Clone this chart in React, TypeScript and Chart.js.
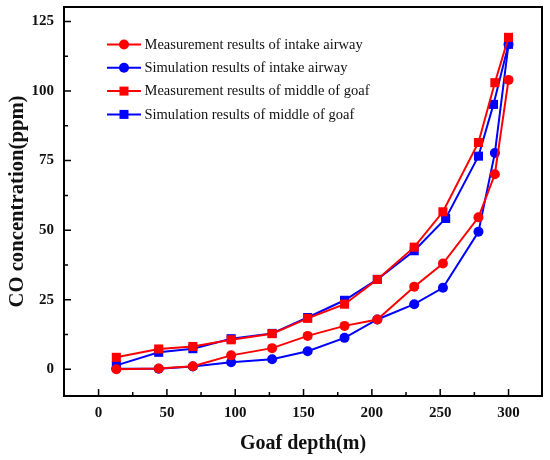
import React, { useEffect, useRef } from "react";
import { Chart, registerables } from "chart.js";

Chart.register(...registerables);

// Goaf depth (m)
const depth = [13, 44, 69, 97, 127, 153, 180, 204, 231, 252, 278, 290, 300];
const depthSimMiddle = [13, 44, 69, 97, 127, 153, 180, 204, 231, 254, 278, 289, 300];

// CO concentration (ppm)
const measIntake = [0, 0.3, 1.1, 5.0, 7.6, 12.0, 15.6, 17.9, 29.7, 38.0, 54.6, 70.1, 104.0];
const simIntake = [0.2, 0.2, 1.0, 2.5, 3.6, 6.5, 11.3, 17.9, 23.4, 29.3, 49.4, 77.7, 116.8];
const measMiddle = [4.3, 7.3, 8.2, 10.6, 12.8, 18.3, 23.4, 32.3, 43.9, 56.6, 81.5, 103.0, 119.3];
const simMiddle = [1.4, 6.1, 7.4, 11.0, 12.9, 18.6, 24.8, 32.3, 42.6, 54.2, 76.6, 95.2, 116.8];

const seriesNames = [
  "Measurement results of intake airway",
  "Simulation results of intake airway",
  "Measurement results of middle of goaf",
  "Simulation results of middle of goaf",
];

const xTicks = [0, 50, 100, 150, 200, 250, 300];
const xMinorTicks = [25, 75, 125, 175, 225, 275];
const yTicks = [0, 25, 50, 75, 100, 125];
const yMinorTicks = [12.5, 37.5, 62.5, 87.5, 112.5];

const RED = "#ff0000";
const BLUE = "#0000ff";
const FONT = "'Liberation Serif', 'Times New Roman', serif";

const frameAndLegend = {
  id: "frameAndLegend",
  afterDraw(chart: any) {
    const { ctx, chartArea: a, scales } = chart;
    const xs = scales.x;
    const ys = scales.y;
    ctx.save();
    ctx.strokeStyle = "#000";
    ctx.lineWidth = 2;
    ctx.strokeRect(a.left, a.top, a.right - a.left, a.bottom - a.top);
    ctx.lineWidth = 1.5;
    ctx.beginPath();
    for (const v of xTicks) {
      const px = xs.getPixelForValue(v);
      ctx.moveTo(px, a.bottom);
      ctx.lineTo(px, a.bottom - 7);
    }
    for (const v of xMinorTicks) {
      const px = xs.getPixelForValue(v);
      ctx.moveTo(px, a.bottom);
      ctx.lineTo(px, a.bottom - 4);
    }
    for (const v of yTicks) {
      const py = ys.getPixelForValue(v);
      ctx.moveTo(a.left, py);
      ctx.lineTo(a.left + 7, py);
    }
    for (const v of yMinorTicks) {
      const py = ys.getPixelForValue(v);
      ctx.moveTo(a.left, py);
      ctx.lineTo(a.left + 4, py);
    }
    ctx.stroke();

    // legend
    const colors = [RED, BLUE, RED, BLUE];
    const shapes = ["circle", "circle", "rect", "rect"];
    const x0 = a.left + 43;
    const x1 = a.left + 77;
    const xm = (x0 + x1) / 2;
    ctx.font = `14.5px ${FONT}`;
    ctx.textBaseline = "middle";
    ctx.textAlign = "left";
    seriesNames.forEach((name, i) => {
      const y = a.top + 37.5 + i * 23.3;
      ctx.strokeStyle = colors[i];
      ctx.fillStyle = colors[i];
      ctx.lineWidth = 2;
      ctx.beginPath();
      ctx.moveTo(x0, y);
      ctx.lineTo(x1, y);
      ctx.stroke();
      if (shapes[i] === "circle") {
        ctx.beginPath();
        ctx.arc(xm, y, 5, 0, Math.PI * 2);
        ctx.fill();
      } else {
        ctx.fillRect(xm - 4.5, y - 4.5, 9, 9);
      }
      ctx.fillStyle = "#111";
      ctx.fillText(name, x1 + 3.5, y + 0.5);
    });
    ctx.restore();
  },
};

function pts(xsArr: number[], ysArr: number[]) {
  return xsArr.map((x, i) => ({ x, y: ysArr[i] }));
}

function zeroPad(s: any) {
  s.paddingTop = 0;
  s.paddingBottom = 0;
  s.paddingLeft = 0;
  s.paddingRight = 0;
}

export default function App() {
  const ref = useRef<HTMLCanvasElement>(null);
  useEffect(() => {
    const canvas = ref.current;
    if (!canvas) return;
    const mk = (label: string, data: any, color: string, style: string, order: number) => ({
      label,
      data,
      borderColor: color,
      backgroundColor: color,
      borderWidth: 2,
      pointStyle: style,
      pointRadius: style === "rect" ? 6.4 : 5,
      pointBorderWidth: 0,
      pointBackgroundColor: color,
      tension: 0,
      order,
    });
    const chart = new Chart(canvas, {
      type: "line",
      data: {
        datasets: [
          mk(seriesNames[0], pts(depth, measIntake), RED, "circle", 0),
          mk(seriesNames[1], pts(depth, simIntake), BLUE, "circle", 2),
          mk(seriesNames[2], pts(depth, measMiddle), RED, "rect", 1),
          mk(seriesNames[3], pts(depthSimMiddle, simMiddle), BLUE, "rect", 3),
        ] as any,
      },
      options: {
        animation: false,
        responsive: true,
        maintainAspectRatio: false,
        layout: { padding: { top: 7, right: 8, left: 0, bottom: 0 } },
        plugins: {
          legend: { display: false },
          tooltip: { enabled: false },
        },
        scales: {
          x: {
            type: "linear",
            min: -25.3,
            max: 324.5,
            grid: { display: false, drawTicks: false },
            border: { display: false },
            afterBuildTicks: (s: any) => {
              s.ticks = xTicks.map((v) => ({ value: v }));
            },
            afterFit: (s: any) => {
              s.height = 64;
              zeroPad(s);
            },
            ticks: {
              padding: 8,
              color: "#111",
              font: { family: FONT, size: 15, weight: "bold" },
              maxRotation: 0,
            },
            title: {
              display: true,
              text: "Goaf depth(m)",
              color: "#111",
              font: { family: FONT, size: 20, weight: "bold" },
              padding: { top: 4, bottom: 4 },
            },
          },
          y: {
            type: "linear",
            min: -9.6,
            max: 130.2,
            grid: { display: false, drawTicks: false },
            border: { display: false },
            afterBuildTicks: (s: any) => {
              s.ticks = yTicks.map((v) => ({ value: v }));
            },
            afterFit: (s: any) => {
              s.width = 64;
              zeroPad(s);
            },
            ticks: {
              padding: 10,
              color: "#111",
              font: { family: FONT, size: 15, weight: "bold" },
            },
            title: {
              display: true,
              text: "CO concentration(ppm)",
              color: "#111",
              font: { family: FONT, size: 20.7, weight: "bold" },
              padding: { top: 5, bottom: 4 },
            },
          },
        },
      } as any,
      plugins: [frameAndLegend],
    });
    return () => chart.destroy();
  }, []);
  return (
    <div style={{ position: "fixed", left: 0, top: 0, width: 550, height: 460, background: "#fff" }}>
      <canvas ref={ref} />
    </div>
  );
}
